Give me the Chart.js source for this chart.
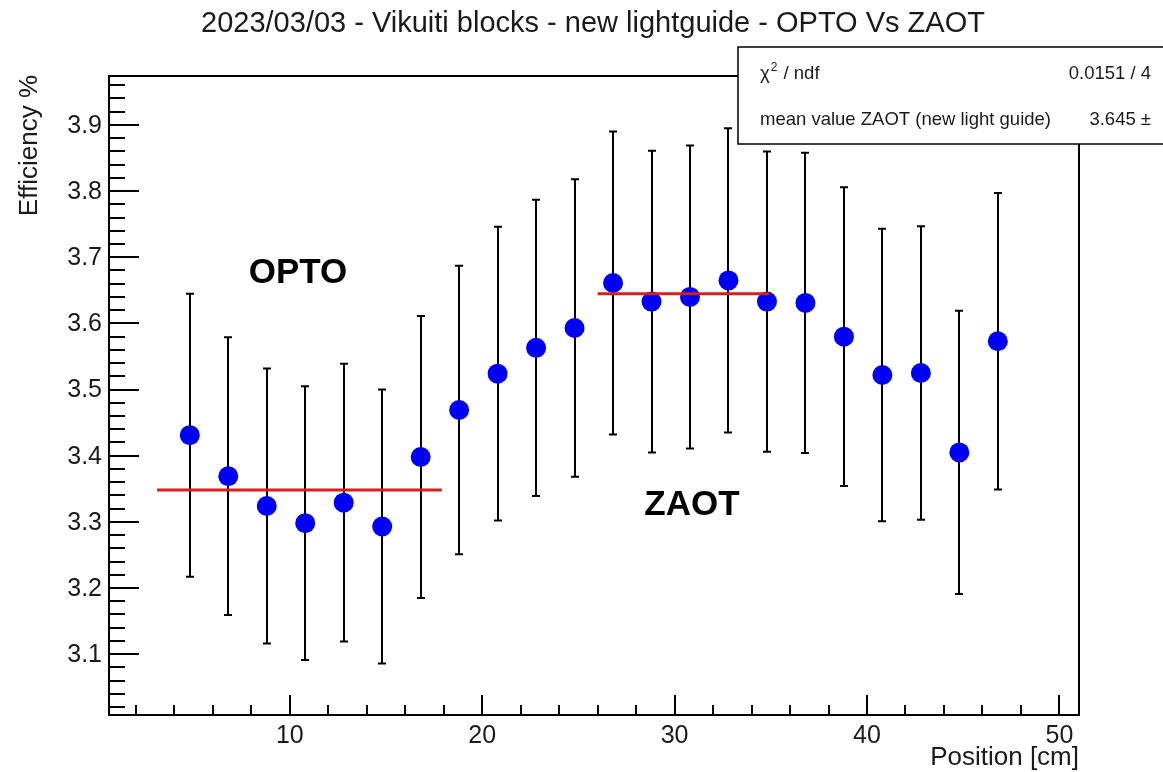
<!DOCTYPE html>
<html>
<head>
<meta charset="utf-8">
<script src="https://cdn.jsdelivr.net/npm/chart.js@4/dist/chart.umd.min.js"></script>
<style>
  html, body { margin: 0; padding: 0; background: #fff; overflow: hidden; }
  canvas { display: block; }
</style>
</head>
<body>
<canvas id="c" width="1163" height="772"></canvas>
<script>
// Scan positions along the block (cm)
const positions = [4.8, 6.8, 8.8, 10.8, 12.8, 14.8, 16.8, 18.8, 20.8, 22.8, 24.8,
                   26.8, 28.8, 30.8, 32.8, 34.8, 36.8, 38.8, 40.8, 42.8, 44.8, 46.8];
// Measured efficiency (%) and its uncertainty
const efficiency = [3.431, 3.369, 3.324, 3.298, 3.329, 3.293, 3.398, 3.469, 3.524, 3.563, 3.593,
                    3.661, 3.633, 3.640, 3.665, 3.633, 3.631, 3.580, 3.522, 3.525, 3.405, 3.573];
const efficiencyErr = [0.214, 0.210, 0.208, 0.207, 0.210, 0.207, 0.213, 0.218, 0.222, 0.224, 0.225,
                       0.229, 0.228, 0.229, 0.230, 0.227, 0.227, 0.226, 0.221, 0.222, 0.214, 0.224];

// Constant fits over the two light-guide regions
const optoFitRange = [3.1, 17.9];
const optoFitValue = 3.348;
const zaotFitRange = [26.0, 34.9];
const zaotFitValue = 3.645;

// Axes
const xRange = [0.6, 51.02];
const yRange = [3.008, 3.974];
const xMajorTicks = [10, 20, 30, 40, 50];
const yMajorTicks = [3.1, 3.2, 3.3, 3.4, 3.5, 3.6, 3.7, 3.8, 3.9];
const xMinorStep = 2;
const yMinorStep = 0.02;

// Fit statistics
const chi2Text = '0.0151 / 4';
const meanLabel = 'mean value ZAOT (new light guide)';
const meanText = '3.645 \u00b1';

const titleText = '2023/03/03 - Vikuiti blocks - new lightguide - OPTO Vs ZAOT';
const xTitle = 'Position [cm]';
const yTitle = 'Efficiency %';

const FONT = '"Liberation Sans", Arial, Helvetica, sans-serif';

function fmtY(v) { return v.toFixed(1); }

const rootStyle = {
  id: 'rootStyle',
  beforeDatasetsDraw(chart) {
    const { ctx, scales: { x, y } } = chart;
    ctx.save();
    ctx.strokeStyle = '#000';
    ctx.lineWidth = 2;
    positions.forEach((p, i) => {
      const px = Math.round(x.getPixelForValue(p));
      const top = y.getPixelForValue(efficiency[i] + efficiencyErr[i]);
      const bot = y.getPixelForValue(efficiency[i] - efficiencyErr[i]);
      ctx.beginPath();
      ctx.moveTo(px, top); ctx.lineTo(px, bot);
      ctx.moveTo(px - 4, top); ctx.lineTo(px + 4, top);
      ctx.moveTo(px - 4, bot); ctx.lineTo(px + 4, bot);
      ctx.stroke();
    });
    ctx.restore();
  },
  afterDraw(chart) {
    const { ctx, chartArea: a, scales: { x, y } } = chart;
    ctx.save();

    // frame
    ctx.strokeStyle = '#000';
    ctx.lineWidth = 2;
    ctx.strokeRect(a.left, a.top, a.right - a.left, a.bottom - a.top);

    // y ticks (inside, on the left edge)
    ctx.lineWidth = 2;
    ctx.beginPath();
    const yStart = Math.ceil((yRange[0] + 1e-9) / yMinorStep);
    const yEnd = Math.floor((yRange[1] - 1e-9) / yMinorStep);
    for (let k = yStart; k <= yEnd; k++) {
      const v = k * yMinorStep;
      const major = yMajorTicks.some(t => Math.abs(t - v) < 1e-6);
      const py = Math.round(y.getPixelForValue(v));
      ctx.moveTo(a.left, py);
      ctx.lineTo(a.left + (major ? 30 : 16), py);
    }
    // x ticks (inside, on the bottom edge)
    for (let v = Math.ceil(xRange[0] / xMinorStep) * xMinorStep; v <= xRange[1]; v += xMinorStep) {
      const major = xMajorTicks.includes(v);
      const px = Math.round(x.getPixelForValue(v));
      ctx.moveTo(px, a.bottom);
      ctx.lineTo(px, a.bottom - (major ? 20 : 10));
    }
    ctx.stroke();

    // tick labels
    ctx.fillStyle = '#1a1a1a';
    ctx.font = '25px ' + FONT;
    ctx.textAlign = 'right';
    ctx.textBaseline = 'middle';
    yMajorTicks.forEach(v => {
      ctx.fillText(fmtY(v), a.left - 7, y.getPixelForValue(v) + 1);
    });
    ctx.textAlign = 'center';
    ctx.textBaseline = 'alphabetic';
    xMajorTicks.forEach(v => {
      ctx.fillText(String(v), x.getPixelForValue(v), 743);
    });

    // axis titles
    ctx.font = '26px ' + FONT;
    ctx.textAlign = 'right';
    ctx.fillText(xTitle, a.right, 765);
    ctx.save();
    ctx.translate(37, a.top - 1);
    ctx.rotate(-Math.PI / 2);
    ctx.textAlign = 'right';
    ctx.fillText(yTitle, 0, 0);
    ctx.restore();

    // title
    ctx.font = '29px ' + FONT;
    ctx.textAlign = 'center';
    ctx.fillText(titleText, 593, 32);

    // region labels
    ctx.fillStyle = '#000';
    ctx.font = 'bold 35px ' + FONT;
    ctx.textAlign = 'center';
    ctx.fillText('OPTO', 298, 283);
    ctx.fillText('ZAOT', 692, 515);

    // statistics box
    ctx.fillStyle = '#fff';
    ctx.fillRect(738, 47, 440, 97);
    ctx.strokeStyle = '#000';
    ctx.lineWidth = 1.5;
    ctx.strokeRect(738, 47, 440, 97);
    ctx.fillStyle = '#1a1a1a';
    ctx.font = '18.5px ' + FONT;
    ctx.textAlign = 'left';
    ctx.fillText('\u03c7', 760, 79);
    let w = ctx.measureText('\u03c7').width;
    ctx.font = '12px ' + FONT;
    ctx.fillText('2', 760 + w + 1, 71);
    const w2 = ctx.measureText('2').width;
    ctx.font = '18.5px ' + FONT;
    ctx.fillText(' / ndf', 760 + w + w2 + 2, 79);
    ctx.fillText(meanLabel, 760, 125);
    ctx.textAlign = 'right';
    ctx.fillText(chi2Text, 1151, 79);
    ctx.fillText(meanText, 1151, 125);

    ctx.restore();
  }
};

new Chart(document.getElementById('c'), {
  type: 'scatter',
  data: {
    datasets: [
      {
        label: 'efficiency',
        data: positions.map((p, i) => ({ x: p, y: efficiency[i] })),
        pointRadius: 10,
        pointHoverRadius: 10,
        pointStyle: 'circle',
        backgroundColor: '#0000f5',
        borderWidth: 0,
        showLine: false,
        order: 2
      },
      {
        label: 'OPTO fit',
        data: optoFitRange.map(v => ({ x: v, y: optoFitValue })),
        borderColor: '#d41f1f',
        borderWidth: 3,
        pointRadius: 0,
        showLine: true,
        order: 1
      },
      {
        label: 'ZAOT fit',
        data: zaotFitRange.map(v => ({ x: v, y: zaotFitValue })),
        borderColor: '#d41f1f',
        borderWidth: 3,
        pointRadius: 0,
        showLine: true,
        order: 1
      }
    ]
  },
  options: {
    responsive: false,
    animation: false,
    devicePixelRatio: 1,
    events: [],
    layout: { padding: { left: 109, right: 84, top: 76, bottom: 57 } },
    plugins: { legend: { display: false }, tooltip: { enabled: false } },
    scales: {
      x: { type: 'linear', display: false, min: xRange[0], max: xRange[1] },
      y: { type: 'linear', display: false, min: yRange[0], max: yRange[1] }
    }
  },
  plugins: [rootStyle]
});
</script>
</body>
</html>
